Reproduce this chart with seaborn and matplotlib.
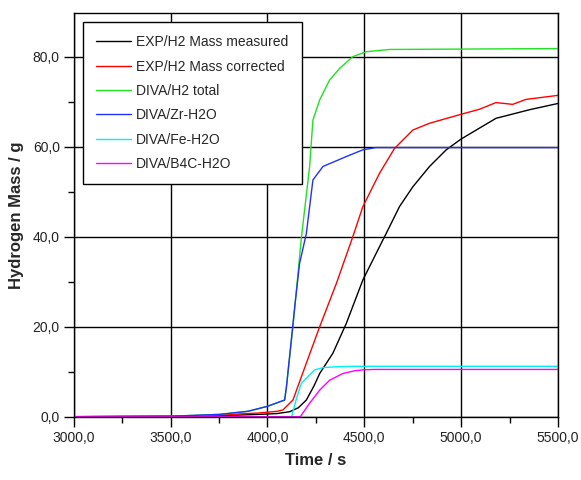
import numpy as np
import pandas as pd
import matplotlib
matplotlib.use("Agg")
import matplotlib.pyplot as plt
import seaborn as sns
from matplotlib.ticker import FuncFormatter, MultipleLocator

# ---- data ----
t_measured = [3000, 3500, 3800, 3950, 4050, 4115, 4160, 4201, 4240, 4270, 4338, 4407, 4493, 4579,
              4613, 4682, 4751, 4837, 4923, 5000, 5090, 5180, 5352, 5500]
v_measured = [0.0, 0.1, 0.3, 0.5, 0.7, 1.1, 2.0, 3.7, 6.8, 9.6, 14.1, 20.7, 30.4, 37.8,
              40.7, 46.7, 51.1, 55.6, 59.3, 61.7, 64.0, 66.3, 68.2, 69.6]

t_corrected = [3000, 3500, 3800, 3850, 3950, 4050, 4080, 4132, 4201, 4270, 4356, 4441, 4493,
               4579, 4656, 4751, 4837, 5000, 5094, 5180, 5266, 5335, 5500]
v_corrected = [0.0, 0.1, 0.4, 0.6, 0.8, 1.2, 1.5, 3.7, 11.9, 20.0, 29.6, 40.0, 46.7,
               54.1, 59.6, 63.7, 65.2, 67.2, 68.3, 69.8, 69.4, 70.5, 71.4]

t_total = [3000, 3500, 3750, 3900, 4000, 4089, 4098, 4132, 4175, 4218, 4235, 4270, 4321,
           4373, 4441, 4510, 4630, 5500]
v_total = [0.0, 0.1, 0.5, 1.2, 2.3, 3.7, 6.5, 20.0, 39.6, 55.6, 65.9, 70.4, 74.8,
           77.4, 80.0, 81.1, 81.6, 81.8]

t_zr = [3000, 3500, 3750, 3900, 4000, 4089, 4098, 4141, 4166, 4201, 4235, 4252, 4287,
        4407, 4493, 4560, 5500]
v_zr = [0.0, 0.1, 0.5, 1.2, 2.3, 3.7, 6.5, 24.4, 34.0, 40.7, 52.6, 53.6, 55.6,
        57.8, 59.3, 59.8, 59.8]

t_fe = [3000, 4125, 4150, 4175, 4209, 4244, 4287, 4356, 4450, 5500]
v_fe = [0.0, 0.0, 4.0, 7.4, 8.9, 10.4, 10.9, 11.1, 11.2, 11.2]

t_b4c = [3000, 4170, 4218, 4270, 4321, 4390, 4450, 4493, 4550, 5500]
v_b4c = [0.0, 0.0, 3.0, 5.9, 8.1, 9.6, 10.2, 10.4, 10.5, 10.5]

series_names = ["EXP/H2 Mass measured", "EXP/H2 Mass corrected", "DIVA/H2 total",
                "DIVA/Zr-H2O", "DIVA/Fe-H2O", "DIVA/B4C-H2O"]
series_t = [t_measured, t_corrected, t_total, t_zr, t_fe, t_b4c]
series_v = [v_measured, v_corrected, v_total, v_zr, v_fe, v_b4c]
colors = ["#000000", "#ff0000", "#22e022", "#2030ff", "#00f0f0", "#ff00ff"]

x_ticks = [3000, 3500, 4000, 4500, 5000, 5500]
y_ticks = [0, 20, 40, 60, 80]

# ---- build long table ----
frames = []
for name, t, v in zip(series_names, series_t, series_v):
    frames.append(pd.DataFrame({"Time": t, "Mass": v, "Series": name}))
df = pd.concat(frames, ignore_index=True)

sns.set_style("white")
plt.rcParams["font.family"] = ["Liberation Sans", "DejaVu Sans"]

fig = plt.figure(figsize=(5.81, 4.80), dpi=100)
ax = fig.add_axes([0.1268, 0.1319, 0.8336, 0.8410])

sns.lineplot(data=df, x="Time", y="Mass", hue="Series", hue_order=series_names,
             palette=dict(zip(series_names, colors)), linewidth=1.0, ax=ax,
             estimator=None, sort=False)

ax.set_xlim(3000, 5500)
ax.set_ylim(0, 89.7)
ax.set_xticks(x_ticks)
ax.set_yticks(y_ticks)
ax.xaxis.set_minor_locator(MultipleLocator(250))
ax.yaxis.set_minor_locator(MultipleLocator(10))
fmt = FuncFormatter(lambda v, p: f"{v:.1f}".replace(".", ","))
ax.xaxis.set_major_formatter(fmt)
ax.yaxis.set_major_formatter(fmt)
ax.tick_params(axis="both", which="major", direction="out", length=7, width=1,
               color="black", labelsize=10, labelcolor="#222222", pad=3)
ax.tick_params(axis="both", which="minor", direction="out", length=4, width=1, color="black")
ax.tick_params(bottom=True, left=True, which="both")
ax.grid(True, which="major", color="black", linewidth=1.0)
ax.set_axisbelow(True)
for s in ax.spines.values():
    s.set_color("black")
    s.set_linewidth(1.0)

ax.set_xlabel("Time / s", fontsize=12, fontweight="bold", labelpad=6)
ax.set_ylabel("Hydrogen Mass / g", fontsize=12, fontweight="bold", labelpad=6)

leg = ax.legend(loc="upper left", bbox_to_anchor=(0.019, 0.978), borderaxespad=0,
                frameon=True, fancybox=False, edgecolor="black", framealpha=1,
                fontsize=10, handlelength=2.5, labelspacing=0.75, borderpad=0.95,
                handletextpad=0.4)
leg.get_frame().set_linewidth(1.0)

fig.savefig("out.png", dpi=100, facecolor="white")
